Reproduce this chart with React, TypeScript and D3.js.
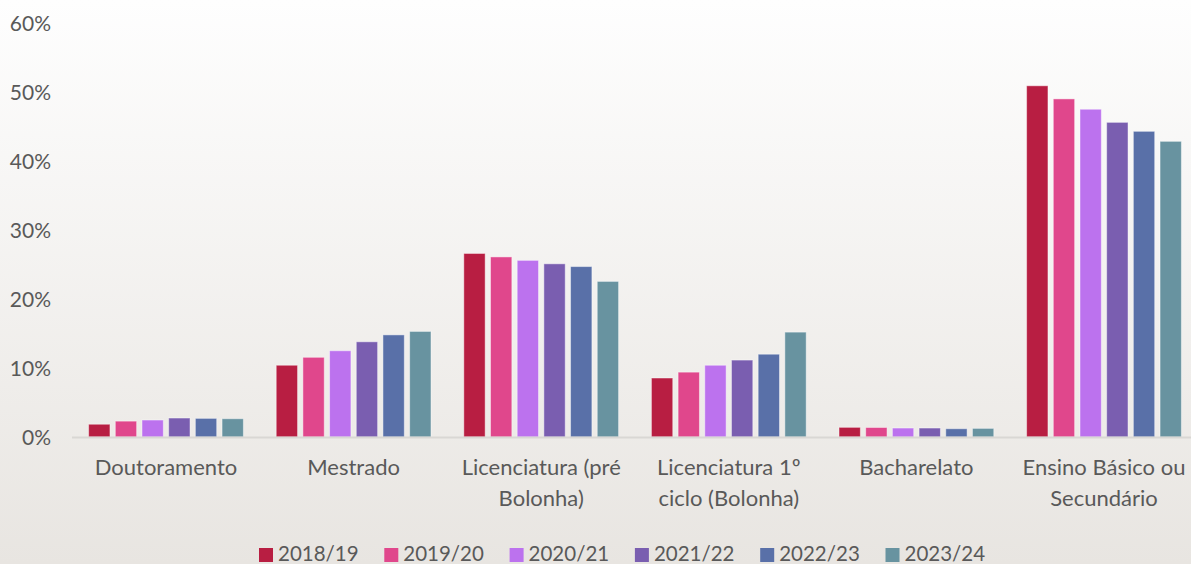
import React from "react";
import * as d3 from "d3";

const categories: string[][] = [
  ["Doutoramento"],
  ["Mestrado"],
  ["Licenciatura (pré", "Bolonha)"],
  ["Licenciatura 1º", "ciclo (Bolonha)"],
  ["Bacharelato"],
  ["Ensino Básico ou", "Secundário"],
];

const seriesNames = ["2018/19", "2019/20", "2020/21", "2021/22", "2022/23", "2023/24"];
const seriesColors = ["#b81e42", "#e0478c", "#bc72ee", "#7a5eb0", "#5970a8", "#6893a0"];

// values in %, per series (one per category)
const s2018 = [1.85, 10.4, 26.6, 8.55, 1.4, 50.9];
const s2019 = [2.3, 11.55, 26.1, 9.4, 1.38, 49.0];
const s2020 = [2.46, 12.5, 25.6, 10.4, 1.3, 47.5];
const s2021 = [2.75, 13.8, 25.1, 11.15, 1.3, 45.6];
const s2022 = [2.7, 14.8, 24.7, 12.0, 1.2, 44.3];
const s2023 = [2.65, 15.3, 22.55, 15.2, 1.25, 42.85];
const seriesValues = [s2018, s2019, s2020, s2021, s2022, s2023];

const yTicks = [0, 10, 20, 30, 40, 50, 60];

const W = 1191;
const H = 564;
const FONT = "Lato, 'Open Sans', sans-serif";
const TEXT = "#595959";

export default function App() {
  const catKeys = categories.map((c) => c.join(" "));
  const x0 = d3.scaleBand<string>().domain(catKeys).range([72.2, 1197.8]).padding(0);
  const x1 = d3
    .scaleBand<string>()
    .domain(seriesNames)
    .range([0, x0.bandwidth()])
    .paddingInner(0.2)
    .paddingOuter(0.615);
  const y = d3.scaleLinear().domain([0, 60]).range([437, 23]);

  return (
    <svg
      width={W}
      height={H}
      style={{ position: "absolute", left: 0, top: 0, display: "block" }}
      fontFamily={FONT}
    >
      <defs>
        <linearGradient id="bg" x1="0" y1="0" x2="0" y2="1">
          <stop offset="0" stopColor="#fefefe" />
          <stop offset="1" stopColor="#e8e5e1" />
        </linearGradient>
      </defs>
      <rect x={0} y={0} width={W} height={H} fill="url(#bg)" />

      {/* y tick labels */}
      {yTicks.map((t) => (
        <text
          key={t}
          x={51}
          y={y(t)}
          dy="0.36em"
          textAnchor="end"
          fontSize={21}
          fill={TEXT}
        >
          {t}%
        </text>
      ))}

      {/* bars */}
      {catKeys.map((ck, ci) => (
        <g key={ck} transform={`translate(${x0(ck)},0)`}>
          {seriesNames.map((s, si) => {
            const v = seriesValues[si][ci];
            return (
              <rect
                key={s}
                x={x1(s)}
                y={y(v)}
                width={x1.bandwidth()}
                height={y(0) - y(v)}
                fill={seriesColors[si]}
                stroke="#ffffff"
                strokeOpacity={0.45}
                strokeWidth={1}
              />
            );
          })}
        </g>
      ))}

      {/* axis line */}
      <line x1={72} x2={W} y1={y(0) + 0.5} y2={y(0) + 0.5} stroke="#d9d7d4" strokeWidth={2} />

      {/* category labels */}
      {categories.map((lines, ci) => {
        const cx = (x0(catKeys[ci]) as number) + x0.bandwidth() / 2;
        return (
          <text key={ci} textAnchor="middle" fontSize={22} fill={TEXT}>
            {lines.map((l, li) => (
              <tspan key={li} x={cx} y={475 + li * 31}>
                {l}
              </tspan>
            ))}
          </text>
        );
      })}

      {/* legend */}
      {seriesNames.map((s, i) => {
        const lx = 259 + i * 125.3;
        return (
          <g key={s}>
            <rect x={lx} y={548} width={14} height={14} fill={seriesColors[i]} />
            <text x={lx + 19} y={560.5} fontSize={20.5} fill={TEXT}>
              {s}
            </text>
          </g>
        );
      })}
    </svg>
  );
}
